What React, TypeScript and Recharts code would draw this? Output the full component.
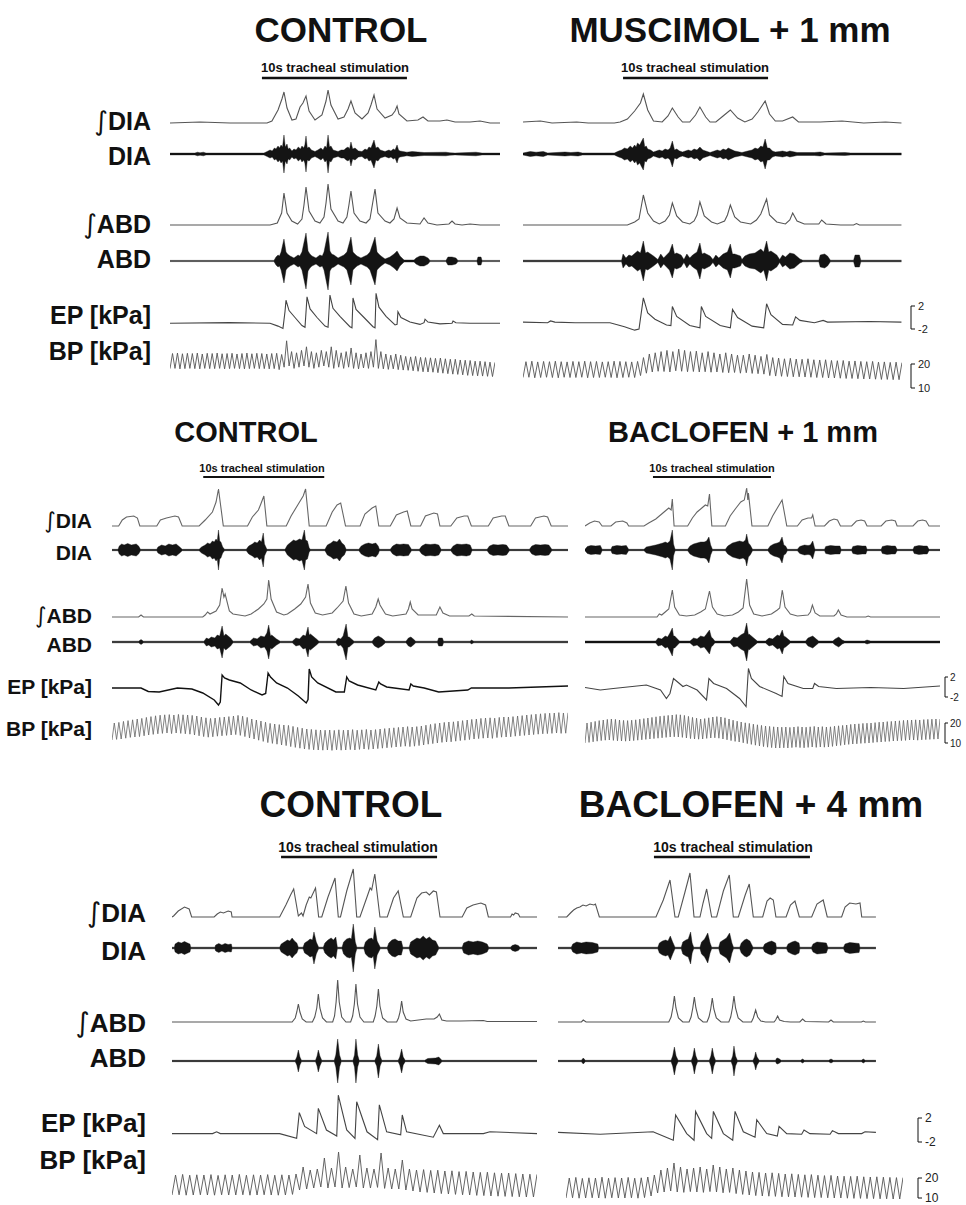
import React from 'react';
import { LineChart, Line, AreaChart, Area, XAxis, YAxis } from 'recharts';

type Pt = [number, number];

// ================= DATA (time in s, a.u. / kPa) =================
// ---- Panel 1, CONTROL ----
const A_iDIA: Pt[] = [[0,0],[2.07,1],[4.14,0],[6.69,0],[7.03,2],[7.45,13],[7.72,24],[7.86,31],[8.07,15],[8.41,3],[8.69,4],[8.97,16],[9.17,20],[9.38,27],[9.59,12],[10.0,3],[10.48,8],[10.76,22],[10.9,33],[11.1,18],[11.59,4],[12.0,6],[12.28,14],[12.48,22],[12.76,10],[13.24,4],[13.66,10],[13.86,18],[14.07,28],[14.28,14],[14.83,5],[15.31,8],[15.52,12],[15.66,17],[15.79,9],[16.34,2],[17.1,3],[17.45,6],[17.79,2],[18.62,2],[19.1,3],[19.66,1],[20.69,1],[21.38,2],[22.07,0],[22.76,0]];
const A_DIA: Pt[] = [[0,0.9],[1.72,0.9],[1.9,1.8],[2.07,1.2],[2.3,1.8],[2.48,0.9],[6.48,0.9],[6.7,2.5],[6.9,4],[7.05,3],[7.2,6],[7.31,5],[7.45,8],[7.55,6],[7.66,9],[7.76,7],[7.86,19],[7.95,7],[8.07,10],[8.15,5],[8.25,6],[8.41,3],[8.55,5],[8.69,4],[8.85,7],[9.0,5],[9.1,8],[9.22,6],[9.3,9],[9.38,18],[9.47,6],[9.59,7],[9.75,4],[10.0,2.5],[10.2,4],[10.41,6],[10.55,4],[10.69,8],[10.8,6],[10.9,19],[11.0,7],[11.1,8],[11.25,4],[11.59,2.5],[11.8,4],[12.0,4],[12.15,6],[12.28,7],[12.38,5],[12.48,12],[12.6,5],[12.76,6],[13.0,3],[13.24,2.5],[13.45,5],[13.59,4],[13.72,7],[13.86,6],[14.07,14],[14.2,6],[14.34,7],[14.5,4],[14.83,2.5],[15.1,4],[15.24,3],[15.4,5],[15.52,4],[15.66,9],[15.76,4],[15.86,3],[16.34,1.8],[16.7,2.5],[17.1,2],[17.52,1.5],[19.03,1.8],[19.3,1.2],[19.66,0.9],[21.1,1.8],[21.52,0.9],[22.76,0.9]];
const A_iABD: Pt[] = [[0,0],[6.9,0],[7.4,2],[7.7,12],[7.86,32],[8.07,12],[8.4,4],[8.8,1],[9.1,6],[9.24,20],[9.38,38],[9.59,14],[10.0,4],[10.34,2],[10.62,8],[10.76,22],[10.9,41],[11.1,16],[11.59,4],[11.93,2],[12.2,8],[12.34,20],[12.48,34],[12.69,12],[13.1,4],[13.52,2],[13.79,6],[13.93,18],[14.14,36],[14.34,12],[14.83,4],[15.17,2],[15.45,6],[15.66,17],[15.86,7],[16.34,2],[17.24,1],[17.52,7],[17.79,2],[18.41,0],[19.24,1],[19.45,4],[19.66,1],[20.14,0],[20.69,1],[21.4,0],[22.76,0]];
const A_ABD: Pt[] = [[0,0.6],[7.17,0.6],[7.31,4],[7.45,6],[7.55,5],[7.66,9],[7.86,22],[8.0,9],[8.1,7],[8.28,5],[8.55,3],[8.83,6],[8.95,5],[9.1,9],[9.38,28],[9.52,10],[9.65,7],[9.79,5],[10.07,3],[10.34,6],[10.5,5],[10.62,9],[10.9,29],[11.03,10],[11.15,7],[11.31,6],[11.59,3],[11.86,5],[12.0,6],[12.2,9],[12.48,24],[12.62,9],[12.75,7],[12.9,5],[13.17,3],[13.45,5],[13.6,6],[13.79,9],[14.14,24],[14.28,9],[14.4,7],[14.55,5],[14.83,2],[15.17,4],[15.45,7],[15.66,10],[15.86,5],[16.14,1],[16.83,1],[16.97,3],[17.24,5],[17.52,5],[17.79,3],[17.93,0.6],[19.03,0.6],[19.17,4],[19.45,4],[19.72,3],[19.86,0.6],[21.17,0.6],[21.24,4],[21.45,4],[21.52,0.6],[22.76,0.6]];
const A_EP: Pt[] = [[0,-1.0],[4.1,-0.9],[6.9,-1.0],[7.45,-1.5],[7.79,-1.9],[7.93,1.0],[8.0,3.0],[8.21,1.2],[8.62,0.0],[9.1,-1.4],[9.31,-1.7],[9.45,3.6],[9.66,1.5],[10.14,0.0],[10.69,-1.5],[10.9,-1.7],[11.03,3.9],[11.24,1.6],[11.72,0.2],[12.41,-1.6],[12.55,-1.8],[12.62,3.4],[12.83,1.4],[13.38,0.0],[14.0,-1.6],[14.14,-1.8],[14.21,4.2],[14.41,1.8],[14.9,0.2],[15.52,-1.3],[15.66,-1.2],[15.72,1.0],[15.93,0.0],[16.55,-0.8],[17.24,-1.2],[17.52,-0.9],[17.59,-0.3],[17.79,-0.8],[18.62,-1.1],[19.45,-1.0],[19.52,-0.6],[19.72,-0.9],[20.69,-1.0],[22.76,-1.0]];
const A_bpSys: number[] = [24.2,24.4,24.1,24.3,24.2,24.4,24.0,24.3,24.2,24.4,24.1,24.2,24.3,24.0,24.2,24.4,24.1,24.3,24.2,24.0,24.2,24.3,23.8,29.5,25.0,24.5,25.5,27.0,25.0,24.5,25.5,25.0,27.0,25.5,24.5,25.0,26.5,24.5,24.0,24.5,25.0,30.0,25.0,24.0,23.5,24.0,23.5,23.0,22.8,23.0,22.6,22.5,22.4,22.2,22.3,22.0,21.8,21.8,21.5,21.4,21.3,21.0,21.0,20.8,20.6,20.5];
const A_bpDia: number[] = [17.9,18.0,17.8,17.9,18.0,17.9,17.8,18.0,17.9,17.9,18.0,17.8,17.9,18.0,17.9,17.8,17.9,18.0,17.9,17.9,17.8,17.9,17.5,18.5,19.0,18.0,18.5,19.0,18.5,18.0,18.5,19.0,18.5,18.0,18.5,18.0,18.5,18.0,17.8,18.2,18.0,18.5,18.0,17.8,17.6,17.8,17.5,17.3,17.2,17.0,16.8,16.6,16.5,16.4,16.2,16.0,15.8,15.6,15.5,15.3,15.1,15.0,14.9,14.8,14.7,14.6];

// ---- Panel 1, MUSCIMOL + 1 mm ----
const B_iDIA: Pt[] = [[0,1],[1.2,2],[2.0,0],[3.7,1],[4.5,0],[6.3,0],[6.7,1],[7.2,4],[7.7,12],[8.1,20],[8.3,29],[8.6,13],[9.0,2],[9.6,1],[10.0,7],[10.3,15],[10.7,6],[11.0,1],[11.5,1],[11.9,8],[12.2,16],[12.6,6],[12.9,1],[13.3,1],[13.8,7],[14.3,13],[14.8,5],[15.3,1],[15.8,4],[16.2,11],[16.7,22],[17.0,9],[17.4,2],[17.9,2],[18.6,6],[19.0,1],[20.5,1],[22.0,2],[23.5,0],[25.0,1],[26.1,0]];
const B_DIA: Pt[] = [[0,1],[0.5,2.5],[0.9,1.8],[1.4,2.5],[1.7,1],[2.9,2],[3.3,1.5],[3.8,2],[4.1,1],[6.3,1],[6.6,3],[6.8,4],[7.0,6],[7.2,5],[7.4,8],[7.55,6],[7.7,9],[7.8,7],[7.9,11],[8.05,9],[8.15,12],[8.3,16],[8.4,7],[8.5,8],[8.6,5],[8.8,4],[9.0,2],[9.2,3],[9.4,4],[9.6,3],[9.8,5],[10.0,4],[10.15,6],[10.3,13],[10.45,4],[10.6,5],[10.8,3],[11.0,2],[11.2,3],[11.4,4],[11.6,3],[11.8,5],[12.0,4],[12.2,7],[12.4,4],[12.6,3],[12.9,1.5],[13.2,3],[13.4,4],[13.6,3],[13.8,5],[14.0,4],[14.15,6],[14.3,5],[14.6,3],[15.1,1.5],[15.5,3],[15.8,4],[16.0,6],[16.2,5],[16.4,8],[16.55,7],[16.7,15],[16.85,6],[17.0,6],[17.2,3],[17.4,2],[17.7,2.5],[17.9,3],[18.2,2],[18.4,3],[18.9,1.5],[20.1,1.5],[20.5,2],[20.8,1],[22.2,1.5],[22.6,1],[26.1,1]];
const B_iABD: Pt[] = [[0,0],[7.2,0],[7.7,3],[8.0,6],[8.3,30],[8.6,12],[9.0,4],[9.4,1],[9.8,4],[10.1,10],[10.3,22],[10.6,9],[11.0,3],[11.5,1],[11.8,4],[12.0,10],[12.2,23],[12.5,9],[13.0,3],[13.4,1],[13.9,4],[14.1,10],[14.3,20],[14.6,8],[15.0,3],[15.7,1],[16.1,5],[16.4,11],[16.8,26],[17.0,10],[17.5,3],[18.1,1],[18.4,5],[18.6,12],[18.9,4],[19.4,1],[20.4,1],[20.6,5],[20.9,1],[21.9,0],[22.8,0],[23.0,1.5],[23.2,0],[26.1,0]];
const B_ABD: Pt[] = [[0,0.8],[6.8,0.8],[6.9,7],[7.1,3],[7.3,6],[7.5,5],[7.9,10],[8.1,8],[8.3,20],[8.45,8],[8.6,9],[9.0,5],[9.3,1.5],[9.5,7],[9.7,3],[9.9,6],[10.1,9],[10.3,17],[10.45,7],[10.6,8],[10.9,6],[11.1,1.5],[11.3,7],[11.5,3],[11.7,6],[12.0,9],[12.2,18],[12.35,7],[12.5,8],[12.9,5],[13.1,1.5],[13.3,6],[13.5,3],[13.8,7],[14.1,9],[14.3,17],[14.45,7],[14.6,7],[15.0,5],[15.1,1.5],[15.3,5],[15.6,7],[16.0,8],[16.4,12],[16.6,9],[16.8,20],[16.95,9],[17.1,10],[17.5,6],[17.7,1.5],[17.9,6],[18.1,4],[18.4,8],[18.7,7],[19.1,2],[19.3,0.8],[20.4,0.8],[20.5,6],[20.8,7],[21.0,5],[21.2,0.8],[22.8,0.8],[22.9,6],[23.2,6],[23.3,0.8],[26.1,0.8]];
const B_EP: Pt[] = [[0,-0.8],[1.7,-0.9],[1.9,-0.6],[2.2,-0.8],[3.6,-0.9],[6.0,-0.9],[7.0,-1.6],[7.7,-2.2],[8.0,-2.0],[8.3,3.4],[8.6,0.8],[9.1,-0.3],[9.9,-1.3],[10.2,-1.4],[10.3,1.9],[10.6,0.2],[11.5,-1.4],[12.2,-1.8],[12.3,1.9],[12.6,0.2],[13.6,-1.4],[14.3,-1.8],[14.45,1.4],[14.8,0.0],[15.8,-1.5],[16.6,-1.8],[16.8,2.4],[17.1,0.5],[17.9,-1.2],[18.6,-1.3],[18.8,0.1],[19.1,-0.5],[20.1,-0.9],[20.7,-0.5],[21.0,-0.8],[23.9,-0.7],[26.1,-0.8]];
const B_bpSys: number[] = [20.8,21.0,20.7,20.9,20.8,21.0,20.8,20.7,20.9,20.8,21.0,20.8,20.9,20.7,20.8,21.0,20.9,20.8,20.7,20.9,22.5,24.0,24.5,25.0,25.5,25.0,26.0,25.5,25.0,25.2,24.5,25.0,24.5,24.0,24.5,24.0,23.5,23.5,24.0,23.5,23.0,23.8,22.5,22.3,22.0,22.2,21.9,21.8,22.0,21.6,21.5,21.6,21.3,21.2,21.3,21.0,21.1,20.9,20.8,20.9,20.6,20.7,20.5,20.6,20.4];
const B_bpDia: number[] = [14.2,14.3,14.1,14.2,14.3,14.2,14.1,14.3,14.2,14.2,14.3,14.1,14.2,14.2,14.3,14.2,14.1,14.2,14.3,14.2,15.0,16.0,16.5,16.8,16.7,16.5,17.0,16.8,16.6,16.7,16.5,16.6,16.4,16.5,16.3,16.2,16.3,16.0,16.2,15.9,15.8,15.6,15.0,14.8,14.7,14.6,14.5,14.5,14.4,14.3,14.2,14.2,14.0,14.0,13.9,13.8,13.8,13.7,13.6,13.6,13.5,13.4,13.4,13.3,13.3];

// ---- Panel 2, CONTROL ----
const C_iDIA: Pt[] = [[0,0],[0.55,0],[0.85,6],[1.2,9],[1.8,10],[2.1,8],[2.3,0],[3.7,0],[4.0,6],[4.5,8],[5.2,10],[5.5,9],[5.8,0],[7.2,0],[7.7,6],[8.3,14],[8.6,24],[8.8,37],[9.2,0],[11.2,0],[11.6,9],[12.1,16],[12.3,22],[12.55,30],[12.8,0],[14.4,0],[14.8,10],[15.4,22],[15.8,30],[16.0,37],[16.3,0],[17.7,0],[18.2,14],[18.6,21],[18.9,23],[19.3,0],[20.5,0],[20.9,12],[21.5,18],[21.8,20],[22.05,0],[23.0,0],[23.5,11],[24.1,14],[24.4,15],[24.7,0],[25.5,0],[25.9,10],[26.6,13],[26.9,12],[27.1,0],[28.0,0],[28.5,8],[29.1,10],[29.4,10],[29.7,0],[31.1,0],[31.5,8],[32.2,10],[32.5,10],[32.8,0],[34.6,0],[35.0,8],[35.7,10],[36.0,9],[36.3,0],[37.7,0]];
const C_DIA: Pt[] = [[0,0.7],[0.5,0.7],[0.6,4],[0.8,6],[1.0,5],[1.3,6.5],[1.6,5],[2.0,6],[2.2,4],[2.35,0.7],[3.7,0.7],[3.8,3],[4.1,5],[4.4,4],[4.7,6],[5.0,5],[5.3,6],[5.6,3],[5.8,0.7],[7.2,0.7],[7.4,3],[7.7,5],[7.9,7],[8.1,6],[8.3,9],[8.45,8],[8.6,11],[8.7,9],[8.8,20],[8.9,9],[9.0,8],[9.15,3],[9.3,0.7],[11.1,0.7],[11.3,4],[11.6,6],[11.8,8],[12.0,7],[12.2,10],[12.35,8],[12.5,17],[12.6,6],[12.8,0.7],[14.3,0.7],[14.5,5],[14.8,8],[15.0,10],[15.2,9],[15.5,11],[15.7,10],[15.9,20],[16.0,10],[16.15,9],[16.3,2],[16.4,0.7],[17.6,0.7],[17.8,5],[18.1,7],[18.3,9],[18.6,8],[18.8,11],[19.0,7],[19.2,5],[19.35,0.7],[20.4,0.7],[20.6,4],[20.9,6],[21.2,7],[21.5,6],[21.8,7],[22.0,4],[22.1,0.7],[23.0,0.7],[23.2,4],[23.5,6],[23.8,5.5],[24.1,6],[24.5,5.5],[24.75,0.7],[25.4,0.7],[25.6,4],[25.9,6],[26.3,5.5],[26.7,6],[27.0,5],[27.2,0.7],[28.0,0.7],[28.2,4],[28.5,6],[28.9,5.5],[29.3,6],[29.6,5],[29.75,0.7],[31.0,0.7],[31.2,4],[31.5,5.5],[31.9,5],[32.3,5.5],[32.6,5],[32.85,0.7],[34.5,0.7],[34.7,4],[35.0,5.5],[35.4,5],[35.8,5.5],[36.1,5],[36.35,0.7],[37.7,0.7]];
const C_iABD: Pt[] = [[0,0],[2.2,0],[2.4,2],[2.6,0],[7.5,0],[7.7,2],[7.9,5],[8.1,3],[8.6,6],[8.9,12],[9.1,29],[9.25,20],[9.35,23],[9.7,6],[10.0,3],[11.0,1],[11.5,3],[12.1,8],[12.55,13],[12.8,18],[12.95,37],[13.15,18],[13.6,5],[14.2,2],[14.5,3],[15.1,8],[15.6,13],[16.0,20],[16.2,33],[16.4,14],[16.8,4],[17.4,2],[18.2,4],[18.6,9],[19.1,16],[19.33,31],[19.55,14],[20.0,3],[20.6,1],[21.5,3],[21.8,10],[22.0,18],[22.15,12],[22.6,3],[23.2,1],[24.3,3],[24.5,8],[24.65,15],[24.8,8],[25.3,2],[26.8,2],[27.1,10],[27.35,4],[27.9,1],[29.5,1],[29.73,3],[29.94,1],[37.7,0]];
const C_ABD: Pt[] = [[0,0.8],[2.2,0.8],[2.4,2.5],[2.6,0.8],[7.6,0.8],[7.8,4],[8.0,3],[8.2,5],[8.5,4],[8.7,7],[8.9,6],[9.1,16],[9.25,6],[9.4,8],[9.8,4],[10.0,0.8],[11.4,0.8],[11.7,4],[12.0,3],[12.3,6],[12.6,5],[12.8,9],[12.95,17],[13.1,6],[13.2,7],[13.6,3],[13.9,0.8],[14.9,0.8],[15.2,4],[15.5,3],[15.8,7],[16.0,6],[16.2,15],[16.3,7],[16.4,8],[16.9,3],[17.1,0.8],[18.5,0.8],[18.7,4],[18.9,3],[19.1,6],[19.35,18],[19.5,5],[19.6,5],[20.0,0.8],[21.5,0.8],[21.7,4],[22.0,6],[22.3,4],[22.6,0.8],[24.3,0.8],[24.5,4],[24.7,5],[24.9,3],[25.1,0.8],[26.9,0.8],[27.0,4],[27.3,4],[27.4,0.8],[29.6,0.8],[29.7,2],[29.9,0.8],[37.7,0.8]];
const C_EP: Pt[] = [[0,-0.2],[2.4,-0.2],[3.0,-0.9],[3.9,-1.0],[5.4,-0.2],[6.6,-0.4],[7.5,-1.2],[8.45,-2.6],[8.8,-3.6],[8.95,-3.0],[9.1,2.4],[9.3,1.8],[9.7,1.4],[10.6,0.8],[11.5,-0.6],[12.4,-1.6],[12.7,-1.3],[12.9,2.8],[13.1,2.0],[13.6,0.8],[14.5,-0.2],[15.4,-1.8],[16.05,-3.2],[16.2,-2.5],[16.3,3.6],[16.5,2.0],[17.0,0.8],[18.5,-1.0],[19.2,-1.0],[19.4,2.0],[19.6,1.2],[20.3,0.4],[21.8,-0.6],[22.05,1.0],[22.2,0.6],[22.7,0.0],[24.55,-0.6],[24.7,0.6],[24.9,0.2],[25.8,-0.2],[27.0,-1.0],[29.4,-0.6],[29.7,-0.2],[32.8,-0.2],[37.7,0.2]];
const C_bpSys: number[] = [20.0,20.3,20.8,21.2,21.6,22.0,22.3,22.8,23.2,23.6,23.9,24.1,24.2,24.0,24.3,24.1,24.0,23.8,23.5,23.0,22.6,22.3,22.5,22.8,23.0,23.2,23.5,23.8,23.4,22.8,22.0,21.5,21.0,20.4,19.8,19.5,19.2,19.0,18.8,18.3,17.8,17.4,17.0,16.8,16.6,16.5,16.4,16.5,16.3,16.6,16.4,16.5,16.7,16.4,16.6,16.8,16.5,16.7,17.0,17.2,17.4,17.6,17.8,18.0,18.2,18.0,18.2,18.5,18.9,19.3,19.7,20.0,20.3,20.5,20.6,20.9,21.2,21.5,21.8,22.0,22.3,22.5,22.6,22.4,22.8,23.0,23.0,23.2,23.5,23.7,24.0,24.2,24.4,24.6,24.8,24.9,25.0,25.2,25.0,25.1];
const C_bpDia: number[] = [11.5,11.8,12.0,12.4,12.8,13.0,13.2,13.6,14.0,14.3,14.6,14.8,15.0,14.7,15.0,14.8,14.6,14.4,14.0,13.6,13.2,12.9,13.1,13.4,13.6,13.8,14.0,14.2,13.8,13.2,12.5,12.0,11.4,10.8,10.2,9.8,9.4,9.0,8.7,8.2,7.8,7.4,7.0,6.8,6.6,6.5,6.4,6.5,6.3,6.6,6.4,6.5,6.7,6.5,6.8,7.0,6.8,7.0,7.2,7.4,7.6,7.8,8.0,8.2,8.4,8.2,8.4,8.7,9.0,9.4,9.7,10.0,10.3,10.5,10.6,10.9,11.2,11.4,11.7,12.0,12.2,12.4,12.5,12.3,12.7,12.9,13.0,13.1,13.4,13.6,13.8,14.0,14.2,14.4,14.6,14.7,14.8,15.0,14.8,14.9];

// ---- Panel 2, BACLOFEN + 1 mm ----
const D_iDIA: Pt[] = [[0,0],[0.4,3],[0.8,5],[1.2,4],[1.45,0],[2.2,0],[2.6,4],[3.2,5],[3.55,3],[3.7,0],[5.0,0],[5.4,3],[6.0,7],[6.5,12],[6.9,16],[7.1,18],[7.3,16],[7.4,27],[7.55,0],[8.7,0],[9.1,8],[9.5,14],[9.9,18],[10.2,21],[10.4,20],[10.55,32],[10.75,0],[11.9,0],[12.3,10],[12.8,18],[13.2,24],[13.5,26],[13.7,38],[13.8,26],[13.85,33],[14.15,0],[15.5,0],[15.9,10],[16.3,18],[16.7,26],[17.1,0],[18.0,0],[18.4,6],[18.9,8],[19.2,8],[19.3,11],[19.5,0],[20.3,0],[20.7,5],[21.1,7],[21.4,6],[21.65,0],[22.6,0],[23.0,5],[23.4,6],[23.7,5],[23.9,0],[25.1,0],[25.5,5],[26.0,6],[26.3,5],[26.45,0],[27.8,0],[28.2,5],[28.6,6],[28.9,5],[29.15,0],[30.1,0]];
const D_DIA: Pt[] = [[0,0.7],[0.2,3.5],[0.5,4.5],[0.9,4],[1.3,4.5],[1.45,0.7],[2.2,0.7],[2.3,3.5],[2.7,4.5],[3.1,4],[3.5,4.5],[3.7,0.7],[5.0,0.7],[5.2,3],[5.6,4],[6.0,5],[6.3,6],[6.6,7],[6.8,8],[7.0,7],[7.2,9],[7.4,20],[7.5,6],[7.6,2],[7.65,0.7],[8.7,0.7],[8.9,4],[9.2,6],[9.5,7],[9.8,8],[10.1,8],[10.3,9],[10.5,13],[10.65,5],[10.8,0.7],[11.9,0.7],[12.1,4],[12.5,7],[12.8,8],[13.1,9],[13.4,8],[13.6,10],[13.7,16],[13.85,7],[14.0,5],[14.2,0.7],[15.5,0.7],[15.7,4],[16.0,6],[16.3,7],[16.5,8],[16.7,13],[16.85,5],[17.0,4],[17.15,0.7],[18.0,0.7],[18.2,3.5],[18.6,5],[18.9,4.5],[19.1,5],[19.3,9],[19.45,2],[19.5,0.7],[20.3,0.7],[20.4,3.5],[20.8,4.5],[21.2,4],[21.6,4],[21.7,0.7],[22.6,0.7],[22.7,3.5],[23.1,4.5],[23.5,4],[23.8,4],[23.9,0.7],[25.1,0.7],[25.2,3.5],[25.6,4.5],[26.0,4],[26.3,4],[26.45,0.7],[27.8,0.7],[27.9,3.5],[28.3,4.5],[28.7,4],[29.0,4],[29.15,0.7],[30.1,0.7]];
const D_iABD: Pt[] = [[0,0],[6.1,0],[6.3,3],[6.5,2],[6.8,5],[7.1,8],[7.4,27],[7.6,10],[8.0,2],[8.6,1],[9.3,2],[9.8,5],[10.2,8],[10.55,26],[10.8,10],[11.2,3],[11.8,1],[12.5,2],[13.0,5],[13.4,9],[13.7,38],[13.95,12],[14.3,3],[15.0,1],[15.8,3],[16.3,7],[16.5,9],[16.72,27],[16.95,10],[17.4,3],[18.0,1],[18.9,2],[19.1,5],[19.27,12],[19.5,4],[19.9,1],[21.1,1],[21.3,3],[21.47,7],[21.7,2],[22.2,0],[23.8,0],[24.0,1],[24.2,0],[30.1,0]];
const D_ABD: Pt[] = [[0,1],[6.0,1],[6.2,4],[6.5,3],[6.8,6],[7.0,5],[7.2,9],[7.4,14],[7.5,6],[7.6,6],[8.0,1],[8.9,1],[9.2,4],[9.5,3],[9.8,6],[10.1,5],[10.3,8],[10.55,12],[10.7,5],[10.8,4],[11.0,1],[12.3,1],[12.6,5],[12.9,4],[13.2,7],[13.5,9],[13.7,19],[13.85,7],[13.9,8],[14.4,3],[14.6,1],[15.3,1],[15.6,4],[15.9,3],[16.3,7],[16.5,6],[16.72,12],[16.85,6],[17.0,5],[17.4,1],[18.7,1],[18.9,4],[19.3,6],[19.6,3],[19.8,1],[21.0,1],[21.2,3],[21.5,5],[21.8,2],[22.0,1],[23.7,1],[23.9,2],[24.2,1],[30.1,1]];
const D_EP: Pt[] = [[0,-0.1],[1.3,-0.6],[2.4,-0.3],[5.2,0.4],[6.4,-0.6],[6.9,-2.3],[7.2,-1.3],[7.5,1.7],[7.8,1.1],[8.3,0.1],[8.6,0.4],[9.5,-0.6],[10.3,-2.6],[10.5,1.7],[10.9,0.7],[12.0,-0.3],[13.1,-2.3],[13.65,-3.9],[13.85,3.7],[14.1,1.7],[14.8,0.1],[16.2,-1.3],[16.7,-1.9],[16.85,2.1],[17.2,0.7],[18.5,-0.3],[19.3,-0.3],[19.45,0.7],[19.8,0.1],[21.3,-0.3],[24.2,-0.1],[27.0,-0.3],[30.1,0.2]];
const D_bpSys: number[] = [20.0,20.4,20.8,21.2,21.5,21.8,22.0,21.8,21.5,21.3,21.2,21.4,21.6,21.9,22.2,22.5,22.8,23.1,23.4,23.6,23.8,24.0,24.2,24.1,23.8,23.3,22.8,22.4,22.0,22.2,22.6,23.0,23.2,23.0,22.6,22.0,21.4,20.9,20.5,20.1,19.8,19.4,19.1,18.8,18.5,18.3,18.1,18.0,17.9,18.0,17.8,18.0,18.2,18.0,17.9,18.1,18.3,18.0,18.2,18.0,18.1,18.4,18.6,18.8,19.0,19.3,19.5,19.6,19.8,19.9,20.0,20.2,20.4,20.5,20.7,20.8,21.0,21.1,21.3,21.4,21.5,21.6,21.5,21.7,21.8,21.9,22.0,22.0];
const D_bpDia: number[] = [10.0,10.3,10.6,10.9,11.2,11.4,11.5,11.3,11.1,11.0,10.9,11.0,11.2,11.4,11.6,11.8,12.0,12.2,12.4,12.6,12.8,13.0,13.1,13.0,12.8,12.5,12.2,12.0,11.9,12.0,12.3,12.5,12.6,12.4,12.0,11.6,11.2,10.8,10.5,10.1,9.7,9.3,8.9,8.5,8.2,7.9,7.7,7.5,7.5,7.6,7.5,7.7,7.9,7.7,7.6,7.8,8.0,7.8,8.0,7.9,8.0,8.3,8.6,8.8,9.1,9.3,9.5,9.6,9.8,9.9,10.0,10.2,10.4,10.5,10.7,10.8,11.0,11.1,11.2,11.3,11.5,11.5,11.4,11.6,11.7,11.8,11.9,12.0];

// ---- Panel 3, CONTROL ----
const E_iDIA: Pt[] = [[0,0],[0.1,1],[0.4,6],[0.8,10],[1.1,8],[1.26,0],[2.7,0],[2.9,3],[3.1,5],[3.3,4],[3.6,6],[3.8,5],[3.85,0],[6.9,0],[7.3,12],[7.6,22],[7.8,28],[8.1,1],[8.3,4],[8.4,1],[8.6,12],[8.8,20],[8.9,19],[9.2,29],[9.4,0],[9.6,0],[10.0,20],[10.45,39],[10.66,0],[10.8,0],[11.2,26],[11.62,48],[11.84,0],[12.05,0],[12.5,20],[12.7,29],[12.8,27],[13.0,43],[13.33,0],[13.8,0],[14.2,19],[14.5,26],[14.83,0],[15.3,0],[15.7,19],[16.0,24],[16.3,25],[16.5,22],[16.75,26],[16.95,25],[17.18,0],[18.6,0],[18.9,9],[19.3,12],[19.8,14],[20.1,12],[20.28,0],[21.7,0],[21.8,3],[21.9,2],[22.0,4],[22.2,3],[22.3,0],[23.4,0]];
const E_DIA: Pt[] = [[0,0.8],[0.15,0.8],[0.2,4],[0.4,6],[0.6,5],[0.8,6.5],[1.0,5],[1.15,4],[1.2,0.8],[2.75,0.8],[2.8,3],[3.0,4.5],[3.2,3],[3.4,4.5],[3.6,3.5],[3.8,4],[3.85,0.8],[6.9,0.8],[7.0,4],[7.2,6],[7.4,8],[7.55,7],[7.7,10],[7.85,7],[8.0,5],[8.1,0.8],[8.4,0.8],[8.5,5],[8.7,7],[8.85,9],[9.0,8],[9.1,16],[9.25,6],[9.4,0.8],[9.7,0.8],[9.8,5],[10.0,8],[10.2,10],[10.35,8],[10.5,11],[10.6,0.8],[10.9,0.8],[11.0,6],[11.2,9],[11.4,10],[11.5,9],[11.62,24],[11.75,6],[11.85,0.8],[12.3,0.8],[12.4,6],[12.6,9],[12.8,10],[12.9,8],[13.0,21],[13.15,7],[13.35,0.8],[13.8,0.8],[13.9,5],[14.1,8],[14.3,9],[14.5,7],[14.7,7],[14.8,0.8],[15.2,0.8],[15.3,6],[15.5,8],[15.7,10],[15.9,9],[16.1,12],[16.3,9],[16.5,11],[16.7,8],[16.9,7],[17.1,0.8],[18.6,0.8],[18.7,5],[19.0,7],[19.3,6],[19.6,7],[19.9,6],[20.2,4],[20.3,0.8],[21.7,0.8],[21.8,2.5],[22.0,3.5],[22.2,2.5],[22.3,0.8],[23.4,0.8]];
const E_iABD: Pt[] = [[0,0],[7.7,0],[7.9,4],[8.0,10],[8.1,18],[8.2,10],[8.35,3],[8.6,0],[9.0,0],[9.15,5],[9.28,14],[9.38,28],[9.48,14],[9.65,4],[9.9,0],[10.3,0],[10.42,6],[10.52,20],[10.62,42],[10.72,20],[10.88,5],[11.15,0],[11.45,0],[11.58,6],[11.69,18],[11.79,38],[11.89,18],[12.05,5],[12.3,0],[12.9,0],[13.02,6],[13.13,16],[13.23,33],[13.33,16],[13.5,4],[13.8,0],[14.4,0],[14.52,4],[14.62,10],[14.72,21],[14.82,10],[15.0,3],[15.3,1],[16.3,3],[16.8,3],[17.0,5],[17.14,8],[17.3,2],[17.6,1],[18.5,1],[19.96,1.5],[20.2,0.5],[23.4,0.5]];
const E_ABD: Pt[] = [[0,0.7],[7.9,0.7],[8.0,4],[8.1,11],[8.2,4],[8.3,0.7],[9.2,0.7],[9.3,5],[9.38,11],[9.48,5],[9.6,0.7],[10.4,0.7],[10.5,6],[10.62,22],[10.74,6],[10.85,0.7],[11.6,0.7],[11.7,6],[11.79,22],[11.9,6],[12.0,0.7],[13.0,0.7],[13.12,5],[13.23,17],[13.34,5],[13.45,0.7],[14.5,0.7],[14.6,4],[14.72,12],[14.82,4],[14.95,0.7],[16.2,0.7],[16.4,2.5],[16.9,3],[17.1,4],[17.3,0.7],[23.4,0.7]];
const E_EP: Pt[] = [[0,-0.6],[2.6,-0.6],[2.86,-0.3],[3.1,-0.6],[6.9,-0.6],[7.99,-1.4],[8.16,2.9],[8.5,0.6],[9.27,-0.6],[9.38,3.6],[9.9,0],[10.56,-1.0],[10.66,5.8],[11.2,0],[11.73,-1.4],[11.84,4.7],[12.5,-0.3],[13.18,-1.6],[13.29,4.2],[13.76,-0.3],[14.66,-0.8],[14.76,2.5],[15.04,-0.3],[16.75,-1.2],[17.14,0.8],[17.39,-0.6],[19.96,-0.6],[20.38,-0.3],[23.4,-0.6]];
const E_bpSys: number[] = [21.5,21.8,21.4,21.6,21.5,21.7,21.3,21.6,21.5,21.8,21.4,21.6,21.5,21.7,21.4,21.6,21.5,22.0,25.5,24.0,24.5,30.0,25.0,33.0,25.5,24.5,31.5,25.0,24.5,32.5,25.0,24.5,29.0,24.5,24.0,24.2,23.8,23.9,23.5,23.6,23.2,23.3,23.0,22.8,22.9,22.6,22.4,22.5,22.2,22.0,21.9,21.8];
const E_bpDia: number[] = [11.5,11.6,11.4,11.5,11.6,11.5,11.4,11.6,11.5,11.5,11.6,11.4,11.5,11.6,11.5,11.4,11.5,11.8,14.0,14.5,15.0,15.5,15.0,15.5,15.0,15.2,15.5,15.0,15.0,15.3,14.8,14.5,14.5,14.0,13.5,13.0,12.8,12.5,12.2,12.0,11.8,11.6,11.5,11.3,11.2,11.0,10.9,10.8,10.7,10.6,10.5,10.5];

// ---- Panel 3, BACLOFEN + 4 mm ----
const F_iDIA: Pt[] = [[0,0],[0.56,0],[0.8,4],[1.0,7],[1.2,9],[1.4,10],[1.6,12],[1.8,11],[2.05,13],[2.3,12],[2.4,13],[2.65,0],[6.28,0],[6.75,17],[7.18,37],[7.5,0],[7.71,0],[8.14,25],[8.46,44],[8.72,0],[9.1,0],[9.3,14],[9.53,28],[9.85,0],[10.17,0],[10.6,26],[10.98,42],[11.24,0],[11.56,0],[12.0,22],[12.26,33],[12.52,0],[13.12,0],[13.4,16],[13.6,19],[13.8,17],[13.97,0],[14.62,0],[14.9,12],[15.19,16],[15.47,0],[16.26,0],[16.6,13],[17.0,17],[17.26,0],[18.18,0],[18.4,10],[18.7,14],[19.1,13],[19.36,14],[19.47,0],[20.38,0]];
const F_DIA: Pt[] = [[0,0.8],[0.85,0.8],[0.95,4],[1.2,6],[1.5,5],[1.8,6],[2.2,5.5],[2.55,4],[2.6,0.8],[6.4,0.8],[6.5,5],[6.7,7],[6.9,8],[7.05,7],[7.2,12],[7.35,6],[7.5,0.8],[7.9,0.8],[8.0,6],[8.2,8],[8.35,9],[8.5,16],[8.6,5],[8.7,0.8],[9.1,0.8],[9.2,6],[9.4,9],[9.6,15],[9.75,5],[9.85,0.8],[10.3,0.8],[10.4,6],[10.6,8],[10.8,10],[11.0,15],[11.15,5],[11.25,0.8],[11.65,0.8],[11.75,5],[11.95,8],[12.1,9],[12.3,7],[12.5,0.8],[13.15,0.8],[13.25,4],[13.5,6],[13.7,7],[13.95,5],[14.0,0.8],[14.65,0.8],[14.75,4],[15.0,6],[15.2,7],[15.45,5],[15.5,0.8],[16.25,0.8],[16.35,4],[16.6,6],[16.9,5.5],[17.2,5],[17.3,0.8],[18.3,0.8],[18.4,4],[18.7,5.5],[19.0,5],[19.3,4.5],[19.35,0.8],[20.38,0.8]];
const F_iABD: Pt[] = [[0,0],[1.5,0],[1.62,2],[1.8,0],[7.1,0],[7.25,5],[7.36,14],[7.46,26],[7.56,14],[7.72,4],[8.0,0],[8.4,0],[8.53,5],[8.64,14],[8.74,25],[8.84,14],[9.0,4],[9.3,0],[9.55,0],[9.68,5],[9.79,13],[9.89,24],[9.99,13],[10.15,4],[10.45,0],[10.95,0],[11.07,5],[11.18,14],[11.28,26],[11.38,14],[11.55,4],[11.85,0],[12.4,0],[12.52,4],[12.67,12],[12.8,5],[13.0,1],[13.3,0],[13.85,0],[13.95,2],[14.08,6],[14.2,2],[14.5,0.5],[14.9,0],[15.5,0],[15.68,3],[15.85,0.5],[17.35,0],[17.5,2],[17.65,0],[19.45,0],[19.57,1],[19.7,0],[20.38,0]];
const F_ABD: Pt[] = [[0,0.7],[1.5,0.7],[1.62,3],[1.75,0.7],[7.25,0.7],[7.35,5],[7.46,14],[7.57,5],[7.7,0.7],[8.55,0.7],[8.65,5],[8.74,13],[8.84,5],[8.95,0.7],[9.7,0.7],[9.8,5],[9.89,13],[9.99,5],[10.1,0.7],[11.1,0.7],[11.2,5],[11.28,15],[11.38,5],[11.5,0.7],[12.5,0.7],[12.6,4],[12.67,9],[12.76,4],[12.9,0.7],[13.95,0.7],[14.0,2.5],[14.08,3],[14.2,2],[14.3,0.7],[15.55,0.7],[15.68,2],[15.8,0.7],[17.35,0.7],[17.5,2],[17.65,0.7],[19.45,0.7],[19.57,2],[19.7,0.7],[20.38,0.7]];
const F_EP: Pt[] = [[0,-0.4],[2.7,-0.7],[6.1,-0.3],[6.2,-0.4],[7.39,-1.7],[7.54,2.5],[8.25,-0.6],[8.72,-1.7],[8.82,3.1],[9.53,-0.6],[9.85,-1.4],[9.96,3.1],[10.6,-0.6],[11.2,-1.7],[11.35,3.1],[11.88,-0.3],[12.63,-1.2],[12.74,1.7],[13.38,-0.6],[14.06,-1.0],[14.17,0.6],[14.66,-0.6],[15.62,-0.7],[15.77,0],[16.15,-0.6],[17.44,-0.7],[17.59,-0.1],[17.97,-0.6],[19.47,-0.6],[19.68,-0.3],[20.38,-0.4]];
const F_bpSys: number[] = [20.0,20.3,19.8,20.1,20.0,20.4,19.9,20.2,20.0,20.3,19.9,20.1,20.5,21.5,24.0,25.0,27.5,25.5,24.5,25.0,25.5,24.5,26.5,25.5,24.5,25.0,24.0,23.5,23.0,22.8,22.5,22.6,22.3,22.0,22.1,21.8,21.6,21.7,21.4,21.2,21.3,21.0,20.9,20.8,20.9,20.6,20.5,20.6,20.4,20.3,20.2,20.2];
const F_bpDia: number[] = [10.0,10.1,9.9,10.0,10.1,10.0,9.9,10.1,10.0,10.0,10.1,9.9,10.2,11.0,12.5,13.0,13.5,13.0,12.8,13.2,13.0,12.8,13.2,13.0,12.6,12.8,12.2,11.8,11.5,11.2,11.0,10.9,10.8,10.6,10.6,10.5,10.4,10.3,10.2,10.2,10.1,10.0,10.0,9.9,9.8,9.8,9.7,9.7,9.6,9.6,9.5,9.5];

// Stimulation onsets (s) and duration (s)
const STIM_DURATION = 10;
const stimOnsets = { A: 6.34, B: 6.9, C: 7.54, D: 5.76, E: 6.99, F: 6.15 };
const epTicks = [-2, 2];
const bpTicks = [10, 20];

// ================= LAYOUT =================
const FONT = '"Liberation Sans", Arial, Helvetica, sans-serif';
type Col = { x0: number; pps: number; w: number };
type Row = { y0: number; ppu: number; lo: number; hi: number };
type Rows = { idia: Row; dia: Row; iabd: Row; abd: Row; ep: Row; bp: Row };

const colA: Col = { x0: 170, pps: 14.5, w: 330 };
const colB: Col = { x0: 523, pps: 14.5, w: 379 };
const colC: Col = { x0: 112, pps: 12.1, w: 456 };
const colD: Col = { x0: 585, pps: 11.8, w: 355 };
const colE: Col = { x0: 172, pps: 15.6, w: 365 };
const colF: Col = { x0: 558, pps: 15.6, w: 318 };

const rows1: Rows = {
  idia: { y0: 123, ppu: 1, lo: -4, hi: 40 },
  dia: { y0: 154, ppu: 1, lo: -22, hi: 22 },
  iabd: { y0: 225, ppu: 1, lo: -4, hi: 45 },
  abd: { y0: 260.5, ppu: 1, lo: -30, hi: 30 },
  ep: { y0: 317.5, ppu: 5.75, lo: -4, hi: 6 },
  bp: { y0: 412, ppu: 2.4, lo: 8, hi: 34 },
};
const rows2: Rows = {
  idia: { y0: 525.5, ppu: 1, lo: -4, hi: 42 },
  dia: { y0: 549.5, ppu: 1, lo: -24, hi: 24 },
  iabd: { y0: 616.5, ppu: 1, lo: -4, hi: 42 },
  abd: { y0: 641.5, ppu: 1, lo: -24, hi: 24 },
  ep: { y0: 687, ppu: 5, lo: -5, hi: 5 },
  bp: { y0: 763, ppu: 2, lo: 2, hi: 30 },
};
const rows3: Rows = {
  idia: { y0: 916.5, ppu: 1, lo: -4, hi: 52 },
  dia: { y0: 948, ppu: 1, lo: -26, hi: 26 },
  iabd: { y0: 1022, ppu: 1, lo: -4, hi: 46 },
  abd: { y0: 1061, ppu: 1, lo: -25, hi: 25 },
  ep: { y0: 1130, ppu: 6, lo: -3, hi: 7 },
  bp: { y0: 1218, ppu: 2, lo: 6, hi: 36 },
};

const M0 = { top: 0, right: 0, bottom: 0, left: 0 };

function LineTrace({ col, row, data, color, sw }: { col: Col; row: Row; data: Pt[]; color: string; sw: number }) {
  const rowsData = data.map(([t, v]) => ({ t, v }));
  const top = row.y0 - row.hi * row.ppu;
  const height = (row.hi - row.lo) * row.ppu;
  return (
    <div style={{ position: 'absolute', left: col.x0, top }}>
      <LineChart width={col.w} height={height} data={rowsData} margin={M0}>
        <XAxis type="number" dataKey="t" domain={[0, col.w / col.pps]} hide allowDataOverflow />
        <YAxis type="number" domain={[row.lo, row.hi]} hide allowDataOverflow />
        <Line type="linear" dataKey="v" stroke={color} strokeWidth={sw} dot={false} activeDot={false} isAnimationActive={false} />
      </LineChart>
    </div>
  );
}

function EmgTrace({ col, row, data }: { col: Col; row: Row; data: Pt[] }) {
  const rowsData = data.map(([t, a]) => ({ t, r: [-a, a] }));
  const top = row.y0 - row.hi * row.ppu;
  const height = (row.hi - row.lo) * row.ppu;
  return (
    <div style={{ position: 'absolute', left: col.x0, top }}>
      <AreaChart width={col.w} height={height} data={rowsData} margin={M0}>
        <XAxis type="number" dataKey="t" domain={[0, col.w / col.pps]} hide allowDataOverflow />
        <YAxis type="number" domain={[row.lo, row.hi]} hide allowDataOverflow />
        <Area type="linear" dataKey="r" stroke="#111" strokeWidth={0.4} fill="#141414" fillOpacity={1} dot={false} activeDot={false} isAnimationActive={false} />
      </AreaChart>
    </div>
  );
}

function BpTrace({ left, width, row, sys, dia, color, sw }: { left: number; width: number; row: Row; sys: number[]; dia: number[]; color: string; sw: number }) {
  const rowsData: { k: number; v: number }[] = [];
  sys.forEach((s, i) => {
    if (dia[i] !== undefined) rowsData.push({ k: rowsData.length, v: dia[i] });
    rowsData.push({ k: rowsData.length, v: s });
  });
  const top = row.y0 - row.hi * row.ppu;
  const height = (row.hi - row.lo) * row.ppu;
  return (
    <div style={{ position: 'absolute', left, top }}>
      <LineChart width={width} height={height} data={rowsData} margin={M0}>
        <XAxis type="number" dataKey="k" domain={[0, rowsData.length - 1]} hide allowDataOverflow />
        <YAxis type="number" domain={[row.lo, row.hi]} hide allowDataOverflow />
        <Line type="linear" dataKey="v" stroke={color} strokeWidth={sw} dot={false} activeDot={false} isAnimationActive={false} />
      </LineChart>
    </div>
  );
}

function StimBar({ col, y, start, sw }: { col: Col; y: number; start: number; sw: number }) {
  const rowsData = [{ t: start, v: 0 }, { t: start + STIM_DURATION, v: 0 }];
  return (
    <div style={{ position: 'absolute', left: col.x0, top: y - 5 }}>
      <LineChart width={col.w} height={10} data={rowsData} margin={M0}>
        <XAxis type="number" dataKey="t" domain={[0, col.w / col.pps]} hide allowDataOverflow />
        <YAxis type="number" domain={[-1, 1]} hide allowDataOverflow />
        <Line type="linear" dataKey="v" stroke="#111" strokeWidth={sw} dot={false} activeDot={false} isAnimationActive={false} />
      </LineChart>
    </div>
  );
}

function ScaleBar({ x, row, ticks, fs, tickSize = 4, tickMargin = 3 }: { x: number; row: Row; ticks: number[]; fs: number; tickSize?: number; tickMargin?: number }) {
  const lo = ticks[0];
  const hi = ticks[ticks.length - 1];
  const pad = 9;
  const top = row.y0 - hi * row.ppu - pad;
  const h = (hi - lo) * row.ppu + 2 * pad;
  return (
    <div style={{ position: 'absolute', left: x - 2, top }}>
      <LineChart width={40} height={h} data={[{ k: 0, v: lo }, { k: 1, v: hi }]} margin={{ top: pad, bottom: pad, left: 0, right: 0 }}>
        <XAxis type="number" dataKey="k" domain={[0, 1]} hide />
        <YAxis orientation="right" type="number" domain={[lo, hi]} ticks={ticks} interval={0} width={38}
          axisLine={{ stroke: '#111', strokeWidth: 1 }} tickLine={{ stroke: '#111', strokeWidth: 1 }} tickSize={tickSize} tickMargin={tickMargin}
          tick={{ fontSize: fs, fill: '#222', fontFamily: FONT }} allowDataOverflow />
        <Line type="linear" dataKey="v" stroke="none" dot={false} activeDot={false} isAnimationActive={false} />
      </LineChart>
    </div>
  );
}

type ColProps = {
  col: Col; rows: Rows; iDIA: Pt[]; DIA: Pt[]; iABD: Pt[]; ABD: Pt[]; EP: Pt[];
  sys: number[]; dia: number[]; bpLeft: number; bpWidth: number; stim: number; stimY: number; stimW: number;
  intColor: string; epColor: string; epW: number; bpColor: string; bpW: number;
};

function Column(p: ColProps) {
  return (
    <>
      <StimBar col={p.col} y={p.stimY} start={p.stim} sw={p.stimW} />
      <LineTrace col={p.col} row={p.rows.idia} data={p.iDIA} color={p.intColor} sw={1.1} />
      <EmgTrace col={p.col} row={p.rows.dia} data={p.DIA} />
      <LineTrace col={p.col} row={p.rows.iabd} data={p.iABD} color={p.intColor} sw={1.1} />
      <EmgTrace col={p.col} row={p.rows.abd} data={p.ABD} />
      <LineTrace col={p.col} row={p.rows.ep} data={p.EP} color={p.epColor} sw={p.epW} />
      <BpTrace left={p.bpLeft} width={p.bpWidth} row={p.rows.bp} sys={p.sys} dia={p.dia} color={p.bpColor} sw={p.bpW} />
    </>
  );
}

function Label({ x, y, fs, integ, text }: { x: number; y: number; fs: number; integ?: boolean; text: string }) {
  return (
    <text x={x} y={y} textAnchor="end" fontSize={fs} fontWeight="bold" fontFamily={FONT} fill="#111">
      {integ ? <tspan fontFamily="DejaVu Sans" fontWeight="normal" fontSize={fs * 1.05}>∫</tspan> : null}
      {text}
    </text>
  );
}

function Title({ x, y, fs, text }: { x: number; y: number; fs: number; text: string }) {
  return (
    <text x={x} y={y} textAnchor="middle" fontSize={fs} fontWeight="bold" fontFamily={FONT} fill="#111">{text}</text>
  );
}

function LabelSet({ x, fs, ys }: { x: number; fs: number; ys: number[] }) {
  return (
    <>
      <Label x={x} y={ys[0]} fs={fs} integ text="DIA" />
      <Label x={x} y={ys[1]} fs={fs} text="DIA" />
      <Label x={x} y={ys[2]} fs={fs} integ text="ABD" />
      <Label x={x} y={ys[3]} fs={fs} text="ABD" />
      <Label x={x} y={ys[4]} fs={fs} text="EP [kPa]" />
      <Label x={x} y={ys[5]} fs={fs} text="BP [kPa]" />
    </>
  );
}

const STIM_TEXT = '10s tracheal stimulation';

export default function App() {
  return (
    <div style={{ position: 'absolute', left: 0, top: 0, width: 966, height: 1205, background: '#fff', overflow: 'hidden' }}>
      <svg width={966} height={1205} style={{ position: 'absolute', left: 0, top: 0 }}>
        <Title x={341} y={42} fs={35} text="CONTROL" />
        <Title x={730} y={42} fs={35} text="MUSCIMOL + 1 mm" />
        <Title x={335} y={72} fs={13} text={STIM_TEXT} />
        <Title x={695} y={72} fs={13} text={STIM_TEXT} />
        <LabelSet x={151} fs={25} ys={[130, 165, 233, 268, 324, 360]} />

        <Title x={246} y={442} fs={29} text="CONTROL" />
        <Title x={743} y={442} fs={29} text="BACLOFEN + 1 mm" />
        <Title x={262} y={472} fs={11} text={STIM_TEXT} />
        <Title x={712} y={472} fs={11} text={STIM_TEXT} />
        <LabelSet x={92} fs={21} ys={[528, 560, 623, 652, 694, 736]} />

        <Title x={351} y={817} fs={37} text="CONTROL" />
        <Title x={751} y={817} fs={37} text="BACLOFEN + 4 mm" />
        <Title x={358} y={852} fs={14} text={STIM_TEXT} />
        <Title x={733} y={852} fs={14} text={STIM_TEXT} />
        <LabelSet x={146} fs={26} ys={[922, 960, 1032, 1067, 1132, 1169]} />
      </svg>

      <Column col={colA} rows={rows1} iDIA={A_iDIA} DIA={A_DIA} iABD={A_iABD} ABD={A_ABD} EP={A_EP}
        sys={A_bpSys} dia={A_bpDia} bpLeft={170} bpWidth={325} stim={stimOnsets.A} stimY={77.5} stimW={2.5}
        intColor="#555" epColor="#444" epW={1.1} bpColor="#555" bpW={0.9} />
      <Column col={colB} rows={rows1} iDIA={B_iDIA} DIA={B_DIA} iABD={B_iABD} ABD={B_ABD} EP={B_EP}
        sys={B_bpSys} dia={B_bpDia} bpLeft={523} bpWidth={379} stim={stimOnsets.B} stimY={77.5} stimW={2.5}
        intColor="#555" epColor="#444" epW={1.1} bpColor="#555" bpW={0.9} />
      <Column col={colC} rows={rows2} iDIA={C_iDIA} DIA={C_DIA} iABD={C_iABD} ABD={C_ABD} EP={C_EP}
        sys={C_bpSys} dia={C_bpDia} bpLeft={112} bpWidth={456} stim={stimOnsets.C} stimY={476.5} stimW={2.2}
        intColor="#666" epColor="#111" epW={1.4} bpColor="#666" bpW={0.8} />
      <Column col={colD} rows={rows2} iDIA={D_iDIA} DIA={D_DIA} iABD={D_iABD} ABD={D_ABD} EP={D_EP}
        sys={D_bpSys} dia={D_bpDia} bpLeft={585} bpWidth={355} stim={stimOnsets.D} stimY={476.5} stimW={2.2}
        intColor="#666" epColor="#444" epW={1.1} bpColor="#666" bpW={0.8} />
      <Column col={colE} rows={rows3} iDIA={E_iDIA} DIA={E_DIA} iABD={E_iABD} ABD={E_ABD} EP={E_EP}
        sys={E_bpSys} dia={E_bpDia} bpLeft={172} bpWidth={365} stim={stimOnsets.E} stimY={856.5} stimW={2.5}
        intColor="#555" epColor="#444" epW={1.1} bpColor="#555" bpW={0.9} />
      <Column col={colF} rows={rows3} iDIA={F_iDIA} DIA={F_DIA} iABD={F_iABD} ABD={F_ABD} EP={F_EP}
        sys={F_bpSys} dia={F_bpDia} bpLeft={566} bpWidth={337} stim={stimOnsets.F} stimY={856.5} stimW={2.5}
        intColor="#555" epColor="#444" epW={1.1} bpColor="#555" bpW={0.9} />

      <ScaleBar x={911} row={rows1.ep} ticks={epTicks} fs={11} />
      <ScaleBar x={911} row={rows1.bp} ticks={bpTicks} fs={11} />
      <ScaleBar x={945} row={rows2.ep} ticks={epTicks} fs={10} tickSize={3} tickMargin={2} />
      <ScaleBar x={945} row={rows2.bp} ticks={bpTicks} fs={10} tickSize={3} tickMargin={2} />
      <ScaleBar x={918} row={rows3.ep} ticks={epTicks} fs={12} />
      <ScaleBar x={918} row={rows3.bp} ticks={bpTicks} fs={12} />
    </div>
  );
}
